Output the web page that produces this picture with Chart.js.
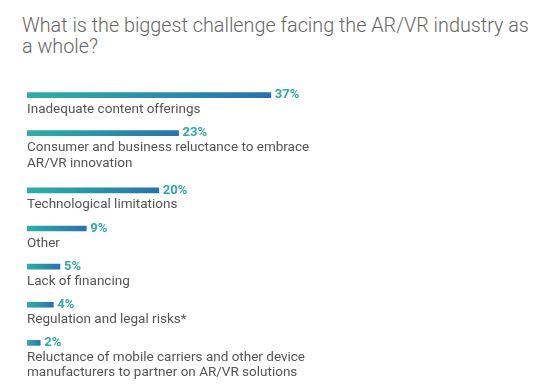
<!DOCTYPE html>
<html>
<head>
<meta charset="utf-8">
<script src="https://cdn.jsdelivr.net/npm/chart.js@4/dist/chart.umd.min.js"></script>
<style>
  html, body { margin: 0; padding: 0; background: #fff; }
  #wrap { position: relative; width: 550px; height: 391px; }
  #title {
    position: absolute; left: 22px; top: 15px; width: 520px;
    font-family: Roboto, sans-serif; font-weight: 300; font-size: 19.8px;
    line-height: 21px; color: #666;
  }
  canvas { position: absolute; left: 0; top: 0; }
</style>
</head>
<body>
<div id="wrap">
  <div id="title">What is the biggest challenge facing the AR/VR industry as a whole?</div>
  <canvas id="chart" width="550" height="391"></canvas>
</div>
<script>
const categories = [
    ['Inadequate content offerings'],
    ['Consumer and business reluctance to embrace', 'AR/VR innovation'],
    ['Technological limitations'],
    ['Other'],
    ['Lack of financing'],
    ['Regulation and legal risks*'],
    ['Reluctance of mobile carriers and other device', 'manufacturers to partner on AR/VR solutions']
];
const values = [37, 23, 20, 9, 5, 4, 2];

// each row takes one slot for the bar plus one per label line
const slots = [];
let s = 0;
categories.forEach(function (lines) {
    slots.push(s);
    s += 1 + lines.length;
});

const points = values.map(function (v, i) { return { x: v, y: slots[i] }; });

const labelPlugin = {
    id: 'rowLabels',
    afterDatasetsDraw(chart) {
        const ctx = chart.ctx;
        const xs = chart.scales.x;
        const ys = chart.scales.y;
        ctx.save();
        values.forEach(function (v, i) {
            const yc = ys.getPixelForValue(slots[i]);
            const xe = xs.getPixelForValue(v);
            ctx.font = 'bold 13px Roboto, sans-serif';
            ctx.fillStyle = '#2fa9a3';
            ctx.textBaseline = 'middle';
            ctx.textAlign = 'left';
            ctx.fillText(v + '%', xe + 4, yc);
            ctx.font = '13.5px Roboto, sans-serif';
            ctx.fillStyle = '#555';
            ctx.textBaseline = 'alphabetic';
            categories[i].forEach(function (line, j) {
                ctx.fillText(line, xs.getPixelForValue(0), yc + 18 + j * 15.5);
            });
        });
        ctx.restore();
    }
};

new Chart(document.getElementById('chart'), {
    type: 'bar',
    data: {
        datasets: [{
            data: points,
            barThickness: 5,
            backgroundColor: function (context) {
                const chart = context.chart;
                if (!chart.chartArea) return '#2a8fb0';
                const xs = chart.scales.x;
                const x0 = xs.getPixelForValue(0);
                const x1 = xs.getPixelForValue(values[context.dataIndex]);
                const g = chart.ctx.createLinearGradient(x0, 0, x1, 0);
                g.addColorStop(0, '#2bb0a6');
                g.addColorStop(1, '#2a72ad');
                return g;
            }
        }]
    },
    options: {
        indexAxis: 'y',
        responsive: false,
        animation: false,
        layout: { padding: { left: 27, right: 9, top: 76, bottom: 10 } },
        plugins: {
            legend: { display: false },
            tooltip: { enabled: false }
        },
        scales: {
            x: { type: 'linear', min: 0, max: 78, display: false },
            y: { type: 'linear', min: -1, max: 15, reverse: true, offset: false, display: false }
        }
    },
    plugins: [labelPlugin]
});
</script>
</body>
</html>
